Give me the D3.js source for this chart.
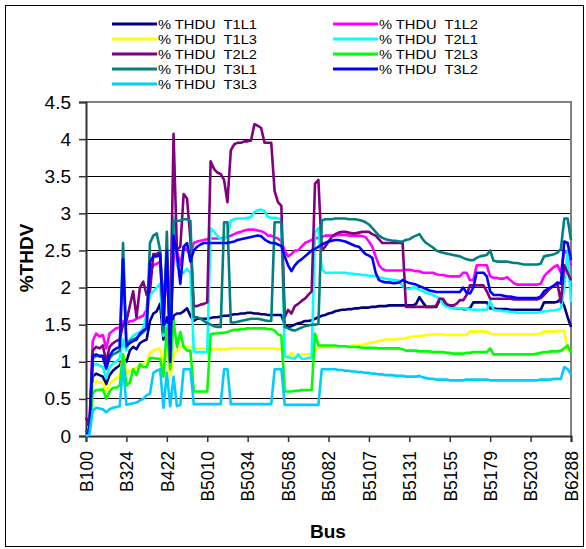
<!DOCTYPE html>
<html>
<head>
<meta charset="utf-8">
<script src="https://cdn.jsdelivr.net/npm/d3@7"></script>
<style>
  body { margin: 0; background: #fff; }
  text { font-family: Arial, "Liberation Sans", sans-serif; fill: #000; }
</style>
</head>
<body>
<svg id="chart" width="586" height="549"></svg>
<script>
// Category tick labels (one every 12 points of the bus list)
const tickLabels = ["B100", "B324", "B422", "B5010", "B5034", "B5058", "B5082",
                    "B5107", "B5131", "B5155", "B5179", "B5203", "B6288"];
const yTicks = [0, 0.5, 1, 1.5, 2, 2.5, 3, 3.5, 4, 4.5];

// Series values (%THDV per bus)
const t1l1 = [0.05,0.1,0.8,0.84,0.82,0.8,0.7,0.82,0.88,0.92,0.95,1.05,
  1.0,1.15,1.2,1.17,1.25,1.28,1.3,1.55,1.65,1.68,1.78,1.3,
  1.6,1.15,1.62,1.65,1.65,1.68,1.72,1.62,1.55,1.58,1.58,1.58,
  1.58,1.59,1.6,1.6,1.61,1.62,1.62,1.63,1.64,1.64,1.65,1.65,
  1.66,1.66,1.65,1.65,1.64,1.64,1.63,1.63,1.63,1.63,1.63,1.5,
  1.47,1.48,1.5,1.52,1.53,1.55,1.55,1.56,1.58,1.6,1.62,1.63,
  1.65,1.66,1.68,1.69,1.7,1.7,1.71,1.71,1.72,1.72,1.73,1.73,
  1.73,1.74,1.74,1.75,1.75,1.75,1.76,1.76,1.76,1.76,1.76,1.76,
  1.76,1.76,1.78,1.87,1.8,1.74,1.74,1.74,1.74,1.83,1.83,1.75,
  1.74,1.73,1.72,1.72,1.71,1.71,1.72,1.8,1.8,1.8,1.8,1.8,
  1.72,1.72,1.71,1.71,1.71,1.71,1.7,1.7,1.7,1.7,1.7,1.7,
  1.7,1.7,1.7,1.7,1.8,1.8,1.8,1.8,1.81,1.85,1.75,1.6,1.47];

const t1l2 = [0.25,0.12,1.28,1.38,1.34,1.36,1.18,1.38,1.42,1.45,1.46,1.55,
  1.5,1.55,1.55,1.58,1.6,1.62,1.7,2.2,2.3,2.32,2.35,1.7,
  2.2,1.4,2.4,2.5,2.3,2.55,2.5,2.45,2.6,2.62,2.63,2.64,
  2.65,2.66,2.66,2.66,2.66,2.67,2.68,2.7,2.72,2.74,2.75,2.77,
  2.78,2.78,2.78,2.77,2.76,2.74,2.7,2.7,2.68,2.66,2.62,2.5,
  2.42,2.45,2.5,2.5,2.55,2.6,2.62,2.64,2.66,2.67,2.68,2.7,
  2.7,2.7,2.7,2.71,2.71,2.71,2.7,2.7,2.7,2.7,2.69,2.68,
  2.62,2.55,2.42,2.3,2.25,2.23,2.23,2.23,2.23,2.23,2.23,2.24,
  2.24,2.23,2.22,2.22,2.2,2.2,2.2,2.2,2.18,2.17,2.17,2.16,
  2.15,2.15,2.15,2.15,2.2,2.2,2.1,2.1,2.3,2.3,2.3,2.3,
  2.15,2.13,2.13,2.12,2.12,2.14,2.1,2.06,2.04,2.04,2.04,2.04,
  2.04,2.04,2.04,2.05,2.15,2.2,2.24,2.28,2.3,2.2,2.5,2.45,2.3];

const t1l3 = [0.05,0.05,0.68,0.74,0.72,0.72,0.6,0.7,0.75,0.78,0.8,1.1,
  0.85,0.88,0.9,0.92,0.93,0.98,1.0,1.12,1.15,1.17,1.18,0.95,
  1.18,0.8,1.1,1.15,1.2,1.22,1.2,1.2,1.18,1.18,1.18,1.18,
  1.17,1.17,1.17,1.17,1.17,1.17,1.17,1.18,1.18,1.18,1.18,1.18,
  1.18,1.18,1.18,1.18,1.18,1.18,1.18,1.18,1.18,1.17,1.17,1.08,
  1.05,1.12,1.06,1.08,1.1,1.1,1.1,1.1,1.14,1.19,1.2,1.2,
  1.2,1.2,1.21,1.21,1.21,1.21,1.21,1.22,1.22,1.22,1.23,1.24,
  1.25,1.26,1.27,1.28,1.29,1.3,1.3,1.3,1.3,1.31,1.31,1.32,
  1.33,1.34,1.34,1.35,1.35,1.36,1.36,1.37,1.37,1.37,1.37,1.36,
  1.36,1.36,1.36,1.36,1.36,1.36,1.41,1.41,1.41,1.41,1.41,1.41,
  1.38,1.37,1.37,1.37,1.37,1.37,1.37,1.37,1.37,1.37,1.37,1.37,
  1.37,1.37,1.37,1.38,1.41,1.41,1.41,1.41,1.41,1.42,1.41,1.16,1.14];

const t2l1 = [0.0,0.05,0.95,0.97,0.95,0.93,0.78,0.92,0.98,1.0,1.05,1.3,
  1.15,1.3,1.35,1.38,1.4,1.45,1.65,1.9,1.95,2.0,2.05,1.35,
  1.5,1.2,2.95,2.3,2.2,2.2,2.25,2.2,1.14,1.13,1.13,1.13,
  1.13,2.8,2.75,2.7,2.65,2.65,2.7,2.9,2.92,2.93,2.93,2.93,
  2.94,2.95,3.02,3.04,3.05,3.03,2.95,2.94,2.94,2.93,2.92,1.07,
  1.06,1.05,1.04,1.1,1.04,1.04,1.05,1.06,2.75,2.8,2.25,2.2,
  2.2,2.2,2.2,2.2,2.2,2.2,2.19,2.19,2.18,2.18,2.17,2.17,
  2.16,2.16,2.15,2.14,2.13,2.12,2.11,2.1,2.1,2.09,2.02,1.99,
  1.98,2.0,2.0,1.97,1.95,1.93,1.92,1.9,1.88,1.85,1.78,1.74,
  1.73,1.72,1.72,1.72,1.72,1.71,1.71,1.7,1.7,1.7,1.7,1.7,
  1.82,1.7,1.69,1.69,1.68,1.68,1.67,1.67,1.66,1.66,1.66,1.66,
  1.66,1.66,1.66,1.67,1.68,1.68,1.69,1.69,1.7,1.72,2.0,2.5,1.8];

const t2l2 = [0.25,0.12,1.15,1.2,1.18,1.22,1.0,1.2,1.25,1.28,1.3,1.5,
  1.55,1.75,1.95,1.6,2.0,2.08,1.9,1.95,2.45,2.45,2.48,1.75,
  2.4,1.5,4.07,2.5,2.55,3.26,3.2,2.65,1.75,1.75,1.77,1.78,
  1.8,3.7,3.6,3.55,3.53,3.45,3.15,3.85,3.93,3.95,3.95,3.97,
  3.97,3.98,4.2,4.18,4.15,3.95,3.95,3.95,3.3,3.15,3.1,1.6,
  1.7,1.65,1.75,1.78,1.82,1.85,1.9,1.95,3.4,3.45,2.5,2.55,
  2.62,2.68,2.72,2.74,2.75,2.75,2.74,2.73,2.73,2.74,2.75,2.75,
  2.75,2.72,2.7,2.65,2.6,2.6,2.6,2.6,2.6,2.6,2.6,1.74,
  1.74,1.74,1.74,1.74,1.74,1.74,1.74,1.74,1.76,1.85,1.85,1.78,
  1.76,1.76,1.78,1.83,1.83,1.9,2.03,2.03,2.03,2.03,2.03,1.95,
  1.85,1.85,1.85,1.85,1.85,1.85,1.85,1.84,1.84,1.84,1.84,1.84,
  1.84,1.84,1.84,1.86,1.9,1.95,2.0,2.02,2.05,1.8,2.3,2.2,2.1];

const t2l3 = [0.05,0.05,0.58,0.62,0.62,0.63,0.5,0.6,0.65,0.65,0.68,1.1,
  0.68,0.72,0.9,0.82,0.97,0.93,0.93,1.05,1.05,1.04,1.04,0.8,
  1.45,0.9,1.55,1.2,1.4,1.2,1.15,1.15,0.6,0.6,0.6,0.6,
  0.6,1.37,1.38,1.38,1.39,1.39,1.4,1.42,1.43,1.43,1.44,1.44,
  1.45,1.45,1.45,1.45,1.45,1.45,1.44,1.44,1.42,1.37,1.35,0.6,
  0.6,0.6,0.61,0.61,0.62,0.62,0.62,0.62,1.38,1.22,1.22,1.22,
  1.22,1.22,1.22,1.21,1.21,1.21,1.2,1.2,1.2,1.2,1.19,1.19,
  1.19,1.19,1.19,1.18,1.18,1.18,1.18,1.18,1.18,1.18,1.17,1.15,
  1.15,1.15,1.15,1.14,1.14,1.14,1.14,1.13,1.13,1.13,1.13,1.12,
  1.12,1.11,1.11,1.11,1.11,1.12,1.12,1.13,1.13,1.13,1.13,1.13,
  1.18,1.1,1.1,1.1,1.1,1.1,1.1,1.1,1.1,1.1,1.1,1.1,
  1.1,1.1,1.11,1.12,1.13,1.13,1.14,1.14,1.14,1.15,1.18,1.22,1.12];

const t3l1 = [0.05,0.08,1.05,1.08,1.07,1.07,0.9,1.05,1.1,1.12,1.15,2.6,
  1.2,1.28,1.3,1.32,1.36,1.4,1.45,2.6,2.7,2.73,2.5,1.4,
  2.75,1.2,2.9,2.9,2.9,2.92,2.92,2.9,1.6,1.6,1.58,1.55,
  1.52,1.5,1.48,1.47,1.47,2.88,2.88,1.53,1.53,1.54,1.55,1.56,
  1.57,1.58,1.58,1.58,1.57,1.56,1.55,1.55,2.88,2.88,2.88,1.47,
  1.45,1.43,1.42,1.44,1.46,1.48,1.49,1.5,1.5,1.51,2.9,2.92,
  2.92,2.92,2.93,2.93,2.93,2.93,2.92,2.92,2.92,2.91,2.9,2.88,
  2.85,2.8,2.75,2.7,2.67,2.65,2.64,2.63,2.63,2.62,2.62,2.64,
  2.65,2.68,2.7,2.72,2.65,2.6,2.57,2.54,2.5,2.48,2.47,2.46,
  2.45,2.44,2.43,2.42,2.4,2.38,2.37,2.37,2.4,2.42,2.43,2.44,
  2.5,2.36,2.35,2.35,2.35,2.35,2.34,2.33,2.33,2.32,2.31,2.31,
  2.31,2.31,2.31,2.32,2.42,2.43,2.44,2.45,2.47,2.52,2.93,2.93,2.64];

const t3l2 = [0.02,0.06,1.08,1.1,1.08,1.08,0.92,1.08,1.15,1.18,1.2,2.38,
  1.22,1.25,1.28,1.3,1.38,1.42,1.45,2.35,2.42,2.42,2.45,1.5,
  2.5,1.0,2.7,2.45,2.05,2.55,2.6,2.35,2.5,2.55,2.58,2.6,
  2.6,2.6,2.6,2.6,2.6,2.6,2.6,2.61,2.62,2.64,2.65,2.66,
  2.67,2.68,2.69,2.7,2.69,2.65,2.62,2.6,2.6,2.58,2.56,2.42,
  2.3,2.22,2.3,2.35,2.38,2.42,2.46,2.5,2.52,2.55,2.58,2.6,
  2.62,2.63,2.64,2.64,2.63,2.62,2.6,2.58,2.56,2.55,2.5,2.45,
  2.43,2.4,2.2,2.1,2.08,2.07,2.07,2.06,2.06,2.07,2.1,2.08,
  2.06,2.05,2.04,2.02,2.0,1.98,1.96,1.95,1.94,1.94,1.94,1.94,
  1.94,1.94,1.94,1.94,2.0,1.93,1.92,2.0,2.2,2.2,2.2,2.15,
  1.95,1.9,1.9,1.9,1.89,1.88,1.88,1.87,1.86,1.86,1.86,1.86,
  1.86,1.86,1.86,1.88,1.95,1.98,2.0,2.03,2.07,2.05,2.62,2.6,2.37];

const t3l3 = [0.0,0.02,0.34,0.38,0.37,0.36,0.32,0.36,0.38,0.39,0.4,0.95,
  0.42,0.43,0.44,0.45,0.48,0.5,0.55,0.57,0.85,0.88,0.9,0.38,
  0.85,0.4,0.8,0.4,0.42,0.9,0.9,0.9,0.43,0.43,0.43,0.43,
  0.43,0.43,0.43,0.43,0.43,0.9,0.9,0.43,0.43,0.43,0.43,0.43,
  0.43,0.43,0.43,0.43,0.43,0.43,0.43,0.43,0.9,0.9,0.9,0.42,
  0.42,0.42,0.42,0.42,0.42,0.42,0.42,0.42,0.42,0.42,0.9,0.9,
  0.9,0.9,0.9,0.89,0.89,0.88,0.88,0.87,0.87,0.86,0.86,0.85,
  0.85,0.84,0.84,0.83,0.83,0.82,0.82,0.82,0.81,0.81,0.81,0.8,
  0.8,0.8,0.8,0.81,0.79,0.78,0.77,0.77,0.76,0.76,0.76,0.76,
  0.75,0.75,0.75,0.75,0.75,0.76,0.76,0.76,0.76,0.76,0.76,0.76,
  0.75,0.75,0.75,0.75,0.75,0.75,0.75,0.75,0.75,0.75,0.75,0.75,
  0.75,0.75,0.75,0.76,0.76,0.76,0.76,0.77,0.77,0.77,0.93,0.9,0.83];

const seriesNames = ["% THDU  T1L1", "% THDU  T1L2", "% THDU  T1L3",
                     "% THDU  T2L1", "% THDU  T2L2", "% THDU  T2L3",
                     "% THDU  T3L1", "% THDU  T3L2", "% THDU  T3L3"];
const seriesColors = ["#000080", "#FF00FF", "#FFFF00", "#00FFFF", "#800080",
                      "#00FF00", "#008080", "#0000FF", "#00CCFF"];
const seriesValues = [t1l1, t1l2, t1l3, t2l1, t2l2, t2l3, t3l1, t3l2, t3l3];

const series = seriesNames.map((name, i) => ({
  name: name, color: seriesColors[i], values: seriesValues[i]
}));

// Plot area
const margin = { top: 102, right: 15, bottom: 113, left: 86 };
const width = 586 - margin.left - margin.right;
const height = 549 - margin.top - margin.bottom;

const svg = d3.select("#chart");

// outer chart frame
svg.append("rect")
    .attr("x", 5.5).attr("y", 5.5)
    .attr("width", 578).attr("height", 541)
    .attr("fill", "#fff")
    .attr("stroke", "#000")
    .attr("stroke-width", 1);

const g = svg.append("g")
    .attr("transform", `translate(${margin.left},${margin.top})`);

const nPoints = t1l1.length;
const x = d3.scaleLinear().domain([0, nPoints - 1]).range([0, width]);
const y = d3.scaleLinear().domain([0, 4.5]).range([height, 0]);

// gridlines
g.selectAll(".grid")
    .data(yTicks.filter(d => d > 0 && d < 4.5))
    .enter().append("line")
    .attr("x1", 0).attr("x2", width)
    .attr("y1", d => y(d)).attr("y2", d => y(d))
    .attr("stroke", "#000")
    .attr("stroke-width", 1)
    .attr("shape-rendering", "crispEdges");

// plot area border (top + right in gray)
g.append("path")
    .attr("d", `M0,0H${width}V${height}`)
    .attr("fill", "none")
    .attr("stroke", "#808080")
    .attr("stroke-width", 2);

// Y axis
const yAxis = g.append("g")
    .call(d3.axisLeft(y).tickValues(yTicks).tickSize(7).tickPadding(8)
          .tickFormat(d => String(d)));
yAxis.select(".domain").attr("stroke", "#333").attr("stroke-width", 2);
yAxis.selectAll(".tick line").attr("stroke", "#333").attr("stroke-width", 1.5);
yAxis.selectAll(".tick text")
    .style("font-size", "19px")
    .attr("fill", "#000");

// X axis
const tickIdx = tickLabels.map((_, i) => i * 12);
const xAxis = g.append("g")
    .attr("transform", `translate(0,${height})`)
    .call(d3.axisBottom(x).tickValues(tickIdx).tickSize(6)
          .tickFormat((d, i) => tickLabels[i]));
xAxis.select(".domain").attr("stroke", "#333").attr("stroke-width", 2);
xAxis.selectAll(".tick line").attr("stroke", "#333").attr("stroke-width", 1.5);
xAxis.selectAll(".tick text")
    .style("font-size", "17.5px")
    .attr("fill", "#000")
    .attr("text-anchor", "end")
    .attr("transform", "rotate(-90)")
    .attr("x", -15)
    .attr("y", 0)
    .attr("dy", "0.36em");

// series lines
const line = d3.line()
    .x((d, i) => x(i))
    .y(d => y(d));

g.selectAll(".series")
    .data(series)
    .enter().append("path")
    .attr("class", "series")
    .attr("fill", "none")
    .attr("stroke", d => d.color)
    .attr("stroke-width", 2.6)
    .attr("stroke-linejoin", "round")
    .attr("d", d => line(d.values));

// axis titles
svg.append("text")
    .attr("transform", "translate(33,258) rotate(-90)")
    .attr("text-anchor", "middle")
    .style("font-size", "19px")
    .style("font-weight", "bold")
    .text("%THDV");

svg.append("text")
    .attr("x", 328).attr("y", 538)
    .attr("text-anchor", "middle")
    .style("font-size", "19px")
    .style("font-weight", "bold")
    .text("Bus");

// legend, two columns (text stretched a little sideways, like the original)
const legend = svg.append("g");
const leg = legend.selectAll(".leg")
    .data(series)
    .enter().append("g")
    .attr("transform", (d, i) =>
        `translate(${i % 2 === 0 ? 112 : 333},${24 + Math.floor(i / 2) * 15})`);
leg.append("line")
    .attr("x1", 0).attr("x2", 45)
    .attr("stroke", d => d.color)
    .attr("stroke-width", 3);
leg.append("text")
    .attr("transform", "translate(46,0) scale(1.13,1)")
    .attr("dy", "0.36em")
    .style("font-size", "13px")
    .style("white-space", "pre")
    .text(d => d.name);
</script>
</body>
</html>
